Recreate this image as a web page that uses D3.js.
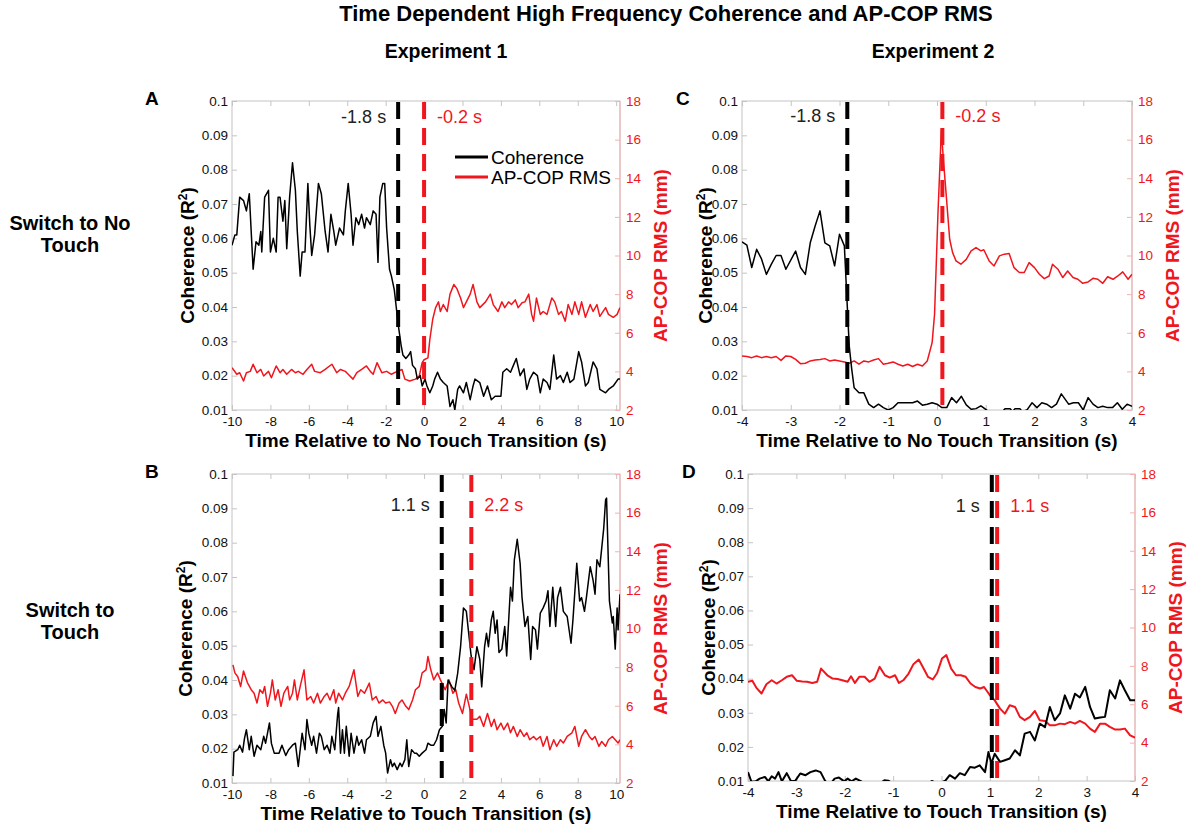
<!DOCTYPE html>
<html>
<head>
<meta charset="utf-8">
<title>Time Dependent High Frequency Coherence and AP-COP RMS</title>
<script src="https://d3js.org/d3.v7.min.js"></script>
<style>
  body { margin: 0; background: #fff; }
  svg text { font-family: "Liberation Sans", Arial, Helvetica, sans-serif; }
</style>
</head>
<body>
<script>
// ---- data (time in s, coherence R^2 / AP-COP RMS mm) ----
var cohTicks = [0.01, 0.02, 0.03, 0.04, 0.05, 0.06, 0.07, 0.08, 0.09, 0.1];
var rmsTicks = [2, 4, 6, 8, 10, 12, 14, 16, 18];
var timeTicksExp1 = [-10, -8, -6, -4, -2, 0, 2, 4, 6, 8, 10];
var timeTicksExp2 = [-4, -3, -2, -1, 0, 1, 2, 3, 4];

// panel A: experiment 1, switch to no touch
var cohA = [[-10,0.058],[-9.85,0.061],[-9.75,0.061],[-9.6,0.072],[-9.4,0.071],[-9.25,0.068],[-9.1,0.073],[-8.9,0.051],[-8.75,0.059],[-8.6,0.058],[-8.5,0.062],[-8.45,0.056],[-8.3,0.072],[-8.1,0.074],[-8.0,0.056],[-7.85,0.06],[-7.7,0.056],[-7.6,0.072],[-7.5,0.072],[-7.35,0.065],[-7.25,0.071],[-7.15,0.057],[-7.0,0.072],[-6.85,0.082],[-6.7,0.074],[-6.6,0.062],[-6.45,0.049],[-6.35,0.056],[-6.2,0.056],[-6.05,0.076],[-5.95,0.064],[-5.85,0.055],[-5.7,0.061],[-5.5,0.076],[-5.35,0.073],[-5.15,0.062],[-5.0,0.056],[-4.85,0.067],[-4.7,0.062],[-4.6,0.058],[-4.4,0.063],[-4.2,0.061],[-4.1,0.068],[-3.95,0.076],[-3.8,0.067],[-3.7,0.058],[-3.55,0.066],[-3.4,0.064],[-3.25,0.067],[-3.1,0.063],[-3.0,0.066],[-2.8,0.064],[-2.65,0.068],[-2.5,0.067],[-2.4,0.053],[-2.3,0.072],[-2.15,0.076],[-2.05,0.076],[-1.95,0.063],[-1.8,0.051],[-1.7,0.049],[-1.55,0.045],[-1.45,0.04],[-1.35,0.035],[-1.2,0.029],[-1.1,0.026],[-0.95,0.025],[-0.8,0.026],[-0.7,0.027],[-0.6,0.023],[-0.45,0.022],[-0.35,0.019],[-0.2,0.02],[-0.1,0.017],[0.05,0.019],[0.15,0.017],[0.3,0.015],[0.45,0.017],[0.55,0.019],[0.7,0.021],[0.85,0.019],[1.0,0.018],[1.2,0.017],[1.35,0.011],[1.5,0.013],[1.6,0.01],[1.75,0.016],[1.85,0.017],[2.05,0.015],[2.2,0.018],[2.4,0.013],[2.55,0.017],[2.65,0.019],[2.9,0.018],[3.1,0.014],[3.3,0.017],[3.5,0.013],[3.7,0.014],[4.0,0.014],[4.1,0.021],[4.3,0.022],[4.5,0.021],[4.65,0.023],[4.8,0.025],[5.0,0.02],[5.2,0.022],[5.35,0.016],[5.5,0.019],[5.7,0.021],[5.9,0.02],[6.05,0.015],[6.2,0.019],[6.4,0.018],[6.55,0.016],[6.75,0.026],[6.9,0.019],[7.1,0.02],[7.25,0.018],[7.45,0.021],[7.6,0.018],[7.8,0.019],[8.05,0.027],[8.2,0.024],[8.4,0.017],[8.55,0.018],[8.8,0.024],[9.0,0.022],[9.15,0.016],[9.45,0.015],[9.6,0.016],[9.85,0.017],[10.1,0.019],[10.2,0.019]];
var rmsA = [[-10,4.19],[-9.75,3.85],[-9.6,3.93],[-9.4,3.5],[-9.25,3.93],[-9.05,4.0],[-8.9,4.37],[-8.7,3.93],[-8.5,4.1],[-8.35,3.76],[-8.1,4.0],[-7.95,3.67],[-7.7,4.28],[-7.5,3.93],[-7.35,4.1],[-7.15,3.85],[-6.9,4.1],[-6.7,3.93],[-6.55,4.0],[-6.3,3.85],[-6.1,4.1],[-5.85,4.37],[-5.7,4.0],[-5.4,3.93],[-5.15,4.1],[-4.8,4.37],[-4.55,3.93],[-4.35,4.1],[-4.1,4.0],[-3.95,3.85],[-3.7,3.6],[-3.5,3.93],[-3.25,4.1],[-3.0,4.28],[-2.8,4.0],[-2.65,3.85],[-2.45,4.45],[-2.2,3.93],[-1.95,4.0],[-1.7,3.85],[-1.4,4.0],[-1.15,4.1],[-1.0,3.6],[-0.75,3.5],[-0.45,3.6],[-0.25,3.76],[-0.1,4.45],[0,4.6],[0.2,4.7],[0.3,5.65],[0.45,6.7],[0.6,7.3],[0.75,7.6],[0.85,7.1],[1.0,7.46],[1.2,7.1],[1.35,8.0],[1.55,8.5],[1.7,8.3],[1.9,7.8],[2.05,7.3],[2.2,7.6],[2.4,8.0],[2.55,8.5],[2.75,7.6],[2.9,7.3],[3.2,7.6],[3.45,8.0],[3.6,7.46],[3.85,7.1],[4.05,7.6],[4.2,7.3],[4.4,7.6],[4.55,7.46],[4.75,7.7],[4.9,7.3],[5.1,7.55],[5.25,7.6],[5.45,8.0],[5.6,6.95],[5.7,6.6],[5.85,7.8],[6.05,6.95],[6.2,7.1],[6.4,6.95],[6.65,7.8],[6.8,7.6],[7.0,6.95],[7.15,7.1],[7.35,6.6],[7.5,7.46],[7.7,6.95],[7.85,7.6],[8.05,6.95],[8.2,7.6],[8.4,6.8],[8.65,7.46],[8.8,7.1],[9.0,7.46],[9.15,6.85],[9.45,7.3],[9.6,6.95],[9.85,6.8],[10.05,6.95],[10.2,7.3]];

// panel B: experiment 1, switch to touch
var cohB = [[-9.95,0.012],[-9.9,0.019],[-9.7,0.0197],[-9.6,0.021],[-9.45,0.019],[-9.35,0.023],[-9.25,0.0255],[-9.1,0.0197],[-9.0,0.0236],[-8.85,0.0178],[-8.7,0.021],[-8.5,0.0197],[-8.35,0.0236],[-8.25,0.0216],[-8.05,0.0275],[-7.95,0.0216],[-7.8,0.0187],[-7.55,0.0187],[-7.4,0.021],[-7.2,0.018],[-7.05,0.0197],[-6.85,0.021],[-6.7,0.0216],[-6.55,0.0148],[-6.45,0.0197],[-6.35,0.0245],[-6.2,0.0197],[-6.1,0.0285],[-6.0,0.0245],[-5.85,0.021],[-5.75,0.0236],[-5.6,0.0187],[-5.45,0.0245],[-5.35,0.0236],[-5.2,0.0197],[-5.05,0.021],[-4.9,0.0187],[-4.8,0.0236],[-4.65,0.0197],[-4.5,0.03],[-4.45,0.032],[-4.35,0.0187],[-4.25,0.0255],[-4.15,0.0187],[-4.05,0.0265],[-3.9,0.0178],[-3.8,0.0245],[-3.65,0.0187],[-3.5,0.0236],[-3.4,0.021],[-3.25,0.0226],[-3.1,0.0187],[-3.0,0.0226],[-2.8,0.0236],[-2.65,0.0275],[-2.5,0.0294],[-2.4,0.0236],[-2.25,0.0265],[-2.1,0.021],[-2.0,0.0187],[-1.9,0.0129],[-1.75,0.0168],[-1.65,0.0148],[-1.55,0.0158],[-1.4,0.0139],[-1.25,0.0158],[-1.15,0.0148],[-1.0,0.0168],[-0.9,0.0226],[-0.8,0.0148],[-0.65,0.0197],[-0.5,0.0187],[-0.4,0.0187],[-0.25,0.0178],[-0.1,0.0187],[0.1,0.0197],[0.2,0.0216],[0.35,0.021],[0.5,0.021],[0.65,0.0226],[0.8,0.0255],[0.95,0.0265],[1.05,0.0314],[1.15,0.0275],[1.25,0.040],[1.45,0.038],[1.6,0.037],[1.75,0.042],[1.9,0.0497],[2.05,0.061],[2.2,0.060],[2.45,0.047],[2.6,0.043],[2.75,0.0497],[2.9,0.046],[3.0,0.038],[3.15,0.0497],[3.25,0.0536],[3.35,0.0497],[3.5,0.0575],[3.6,0.060],[3.7,0.0536],[3.8,0.0575],[3.9,0.048],[4.05,0.049],[4.2,0.0556],[4.3,0.047],[4.5,0.067],[4.6,0.063],[4.7,0.075],[4.85,0.081],[5.0,0.074],[5.1,0.064],[5.25,0.0556],[5.4,0.0585],[5.55,0.046],[5.65,0.0556],[5.8,0.0546],[5.9,0.049],[6.05,0.0595],[6.2,0.061],[6.35,0.063],[6.45,0.066],[6.55,0.0556],[6.7,0.067],[6.85,0.0556],[6.95,0.064],[7.1,0.067],[7.25,0.060],[7.45,0.0585],[7.65,0.0507],[7.75,0.0575],[7.95,0.074],[8.1,0.063],[8.2,0.064],[8.35,0.060],[8.45,0.064],[8.65,0.073],[8.8,0.069],[8.9,0.065],[9.0,0.075],[9.15,0.073],[9.35,0.084],[9.45,0.0925],[9.5,0.093],[9.65,0.063],[9.8,0.0566],[9.85,0.0585],[9.95,0.049],[10.05,0.061],[10.1,0.0546],[10.2,0.065]];
var rmsB = [[-9.95,8.12],[-9.85,7.7],[-9.7,7.5],[-9.55,7.0],[-9.4,7.8],[-9.2,7.2],[-9.0,6.83],[-8.85,6.65],[-8.7,6.14],[-8.55,6.83],[-8.4,6.65],[-8.3,7.0],[-8.15,5.97],[-8.0,6.65],[-7.9,7.34],[-7.75,6.3],[-7.6,6.83],[-7.45,5.97],[-7.3,6.65],[-7.1,7.0],[-7.0,6.3],[-6.85,6.65],[-6.75,7.34],[-6.6,6.3],[-6.45,7.0],[-6.25,7.86],[-6.1,6.3],[-5.9,6.48],[-5.75,6.14],[-5.55,6.65],[-5.4,6.14],[-5.2,6.48],[-5.05,6.65],[-4.9,6.3],[-4.7,6.83],[-4.6,6.14],[-4.45,6.65],[-4.25,6.3],[-4.1,6.65],[-3.9,7.0],[-3.65,7.86],[-3.45,6.48],[-3.3,6.83],[-3.1,6.65],[-2.85,7.17],[-2.7,6.3],[-2.5,6.48],[-2.35,6.14],[-2.15,6.3],[-2.0,6.14],[-1.8,6.2],[-1.65,5.97],[-1.5,5.6],[-1.3,6.14],[-1.15,6.3],[-0.95,5.97],[-0.8,5.8],[-0.6,6.3],[-0.45,6.83],[-0.25,7.0],[-0.1,7.7],[0.1,7.86],[0.2,8.55],[0.35,7.86],[0.5,7.34],[0.7,7.7],[0.85,7.34],[1.1,6.83],[1.3,7.34],[1.5,6.65],[1.65,6.83],[1.8,6.14],[2.0,5.6],[2.2,6.6],[2.35,5.97],[2.5,5.3],[2.75,5.3],[2.9,5.45],[3.1,4.93],[3.3,5.6],[3.5,4.93],[3.65,5.3],[3.8,4.76],[4.0,5.1],[4.15,4.76],[4.35,5.1],[4.5,4.6],[4.65,4.93],[4.85,4.41],[5.0,4.76],[5.2,4.41],[5.35,4.6],[5.5,4.24],[5.7,4.41],[5.85,4.24],[6.05,4.41],[6.2,3.9],[6.4,4.41],[6.55,3.72],[6.75,4.24],[6.9,3.9],[7.1,4.24],[7.25,4.07],[7.45,4.41],[7.7,4.6],[7.85,4.93],[8.05,3.9],[8.2,4.41],[8.4,4.76],[8.6,4.41],[8.75,4.24],[8.9,4.41],[9.1,3.9],[9.25,4.15],[9.45,3.9],[9.6,4.24],[9.8,4.41],[9.95,4.24],[10.1,4.07],[10.2,4.24]];

// panel C: experiment 2, switch to no touch
var cohC = [[-4,0.059],[-3.9,0.058],[-3.8,0.0515],[-3.7,0.0568],[-3.6,0.054],[-3.5,0.0495],[-3.4,0.0524],[-3.3,0.055],[-3.2,0.055],[-3.1,0.051],[-2.9,0.0563],[-2.8,0.0515],[-2.7,0.0495],[-2.6,0.0587],[-2.5,0.0636],[-2.4,0.068],[-2.3,0.0587],[-2.2,0.0578],[-2.1,0.052],[-2.0,0.0612],[-1.9,0.0578],[-1.85,0.043],[-1.8,0.0286],[-1.75,0.022],[-1.7,0.0165],[-1.6,0.015],[-1.5,0.015],[-1.4,0.0117],[-1.3,0.0107],[-1.2,0.0117],[-1.1,0.0107],[-1.0,0.0100],[-0.9,0.0107],[-0.8,0.0121],[-0.7,0.0121],[-0.6,0.0121],[-0.5,0.0121],[-0.4,0.0126],[-0.3,0.0114],[-0.2,0.0117],[-0.1,0.0121],[0,0.0117],[0.1,0.0107],[0.2,0.0107],[0.3,0.0136],[0.4,0.0121],[0.5,0.014],[0.6,0.0115],[0.7,0.0102],[0.8,0.0104],[0.9,0.0112],[1.0,0.0102],[1.1,0.009],[1.2,0.0085],[1.3,0.009],[1.4,0.0104],[1.5,0.0104],[1.55,0.0095],[1.6,0.0104],[1.7,0.0104],[1.75,0.0095],[1.85,0.0101],[1.95,0.0121],[2.05,0.0107],[2.15,0.0121],[2.25,0.0117],[2.35,0.0107],[2.45,0.0117],[2.55,0.0147],[2.7,0.0117],[2.8,0.0121],[2.9,0.0121],[3.0,0.01],[3.1,0.0136],[3.2,0.0117],[3.3,0.0107],[3.4,0.0111],[3.5,0.0107],[3.6,0.0107],[3.7,0.0121],[3.8,0.0102],[3.9,0.0117],[4.0,0.0111]];
var rmsC = [[-4,4.8],[-3.9,4.77],[-3.8,4.71],[-3.7,4.8],[-3.6,4.71],[-3.5,4.77],[-3.4,4.71],[-3.3,4.77],[-3.2,4.57],[-3.1,4.8],[-3.0,4.77],[-2.9,4.62],[-2.8,4.4],[-2.7,4.42],[-2.6,4.54],[-2.5,4.59],[-2.4,4.62],[-2.3,4.66],[-2.2,4.54],[-2.1,4.59],[-2.0,4.54],[-1.9,4.49],[-1.8,4.42],[-1.7,4.54],[-1.6,4.37],[-1.5,4.54],[-1.4,4.49],[-1.3,4.59],[-1.2,4.66],[-1.1,4.37],[-1.0,4.42],[-0.9,4.49],[-0.8,4.37],[-0.7,4.28],[-0.6,4.37],[-0.5,4.25],[-0.4,4.37],[-0.3,4.28],[-0.2,4.54],[-0.1,5.49],[-0.05,6.96],[0.02,12.2],[0.09,16.5],[0.13,15.0],[0.19,13.1],[0.26,10.84],[0.32,10.15],[0.39,9.72],[0.49,9.55],[0.6,9.8],[0.7,10.24],[0.8,10.41],[0.9,10.24],[0.96,10.3],[1.07,9.72],[1.17,9.46],[1.28,9.98],[1.38,10.07],[1.48,10.1],[1.58,9.37],[1.69,9.12],[1.79,9.12],[1.89,9.63],[2.0,9.37],[2.1,9.03],[2.2,8.8],[2.3,8.94],[2.37,9.55],[2.48,9.29],[2.58,8.86],[2.68,9.2],[2.79,8.86],[2.89,8.77],[2.99,8.56],[3.1,8.63],[3.2,8.82],[3.3,8.77],[3.4,8.56],[3.5,8.9],[3.61,8.77],[3.71,8.94],[3.81,9.15],[3.92,8.77],[4.0,9.03]];

// panel D: experiment 2, switch to touch
var cohD = [[-4,0.0126],[-3.93,0.0098],[-3.84,0.0099],[-3.76,0.0107],[-3.65,0.0112],[-3.58,0.0099],[-3.51,0.0114],[-3.44,0.0107],[-3.37,0.0126],[-3.3,0.0099],[-3.2,0.0123],[-3.11,0.0099],[-3.02,0.0101],[-2.92,0.0122],[-2.81,0.0117],[-2.71,0.0126],[-2.6,0.0131],[-2.5,0.0126],[-2.4,0.0099],[-2.29,0.0092],[-2.21,0.0107],[-2.12,0.011],[-2.01,0.0099],[-1.94,0.0107],[-1.86,0.0099],[-1.77,0.0107],[-1.66,0.0099],[-1.56,0.009],[-1.45,0.0092],[-1.35,0.009],[-1.25,0.0095],[-1.18,0.0102],[-1.1,0.0101],[-1.0,0.0092],[-0.9,0.009],[-0.8,0.0094],[-0.7,0.009],[-0.6,0.0093],[-0.5,0.009],[-0.4,0.0092],[-0.3,0.009],[-0.2,0.01],[-0.1,0.0094],[0.0,0.0096],[0.08,0.0101],[0.17,0.0117],[0.28,0.0107],[0.38,0.0123],[0.48,0.0117],[0.59,0.0141],[0.69,0.0139],[0.79,0.0146],[0.9,0.0126],[0.97,0.0185],[1.03,0.0151],[1.1,0.018],[1.21,0.0156],[1.31,0.0161],[1.41,0.0166],[1.52,0.019],[1.62,0.0175],[1.72,0.0239],[1.83,0.0244],[1.93,0.0219],[2.03,0.0268],[2.14,0.0258],[2.24,0.0317],[2.34,0.0278],[2.45,0.0298],[2.55,0.0351],[2.66,0.0312],[2.76,0.0356],[2.86,0.0345],[2.97,0.0376],[3.07,0.0317],[3.17,0.0283],[3.28,0.0286],[3.38,0.0288],[3.48,0.0366],[3.59,0.0342],[3.69,0.0395],[3.79,0.0366],[3.9,0.0337],[4.0,0.0337]];
var rmsD = [[-4,7.17],[-3.91,7.22],[-3.83,6.87],[-3.72,6.56],[-3.62,7.04],[-3.51,7.25],[-3.41,7.08],[-3.3,7.25],[-3.2,7.43],[-3.09,7.51],[-2.99,7.22],[-2.88,7.18],[-2.78,7.17],[-2.67,7.11],[-2.57,7.17],[-2.49,7.86],[-2.36,7.51],[-2.25,7.34],[-2.15,7.32],[-2.05,7.25],[-1.94,7.17],[-1.87,7.46],[-1.79,7.11],[-1.7,7.43],[-1.59,7.43],[-1.49,7.17],[-1.38,7.34],[-1.28,7.95],[-1.17,7.51],[-1.07,7.39],[-0.96,7.51],[-0.88,7.11],[-0.79,7.25],[-0.68,7.6],[-0.58,8.09],[-0.47,8.33],[-0.37,7.86],[-0.28,7.43],[-0.18,7.29],[-0.09,7.63],[0.01,8.38],[0.1,8.56],[0.2,7.86],[0.3,7.51],[0.4,7.51],[0.5,7.43],[0.6,7.08],[0.7,6.9],[0.8,6.82],[0.88,6.9],[1.0,6.47],[1.1,6.2],[1.21,5.77],[1.31,5.51],[1.41,5.95],[1.52,5.86],[1.62,5.34],[1.72,5.17],[1.83,5.34],[1.93,5.65],[2.03,5.17],[2.14,5.13],[2.24,4.9],[2.34,4.9],[2.45,4.99],[2.55,4.96],[2.66,5.08],[2.76,4.99],[2.86,5.13],[2.97,4.99],[3.07,4.73],[3.17,4.56],[3.28,4.99],[3.38,4.99],[3.48,4.82],[3.59,4.68],[3.69,4.68],[3.79,4.73],[3.9,4.38],[4.0,4.26]];

// transition markers: [coherence line time, rms line time], and their labels
var markA = [-1.35, 0.0],  markLabelsA = ["-1.8 s", "-0.2 s"];
var markB = [0.92, 2.46],  markLabelsB = ["1.1 s", "2.2 s"];
var markC = [-1.84, 0.11], markLabelsC = ["-1.8 s", "-0.2 s"];
var markD = [1.04, 1.15],  markLabelsD = ["1 s", "1.1 s"];

var legendLabels = ["Coherence", "AP-COP RMS"];

// ---- drawing ----
var red = "#f0161d";
var svg = d3.select("body").append("svg").attr("width", 1188).attr("height", 833);

var panels = [
  {id: "A", coh: cohA, rms: rmsA, marks: markA, markLabels: markLabelsA, xDom: [-10, 10.2], xTicks: timeTicksExp1,
   left: 232, right: 620, top: 101, bottom: 410, labelY: 123, yTitleOff: 45, xTitle: "Time Relative to No Touch Transition (s)", legend: true},
  {id: "B", coh: cohB, rms: rmsB, marks: markB, markLabels: markLabelsB, xDom: [-10, 10.2], xTicks: timeTicksExp1,
   left: 232, right: 620, top: 474, bottom: 783, labelY: 511, yTitleOff: 47, xTitle: "Time Relative to Touch Transition (s)"},
  {id: "C", coh: cohC, rms: rmsC, marks: markC, markLabels: markLabelsC, xDom: [-4, 4], xTicks: timeTicksExp2,
   left: 742, right: 1132, top: 101, bottom: 410, labelY: 122, yTitleOff: 37, xTitle: "Time Relative to No Touch Transition (s)"},
  {id: "D", coh: cohD, rms: rmsD, marks: markD, markLabels: markLabelsD, xDom: [-4, 4], xTicks: timeTicksExp2,
   left: 748, right: 1135, top: 474, bottom: 781, labelY: 512, yTitleOff: 40, xTitle: "Time Relative to Touch Transition (s)"}
];

panels.forEach(function (p) {
  var x = d3.scaleLinear().domain(p.xDom).range([p.left, p.right]);
  var y = d3.scaleLinear().domain([0.01, 0.1]).range([p.bottom, p.top]);
  var yR = d3.scaleLinear().domain([2, 18]).range([p.bottom, p.top]);
  var g = svg.append("g");

  // frame
  g.append("rect").attr("x", p.left).attr("y", p.top)
    .attr("width", p.right - p.left).attr("height", p.bottom - p.top)
    .attr("fill", "none").attr("stroke", "#c4c4c4").attr("stroke-width", 1);
  g.append("line").attr("x1", p.right).attr("x2", p.right).attr("y1", p.top).attr("y2", p.bottom)
    .attr("stroke", "#f7b0b0").attr("stroke-width", 1);

  // axes, ticks pointing inward like matlab
  var ax = g.append("g").attr("transform", "translate(0," + p.bottom + ")")
    .call(d3.axisBottom(x).tickValues(p.xTicks).tickSize(-5).tickPadding(6).tickFormat(function (d) { return String(d); }));
  var axTop = g.append("g").attr("transform", "translate(0," + p.top + ")")
    .call(d3.axisTop(x).tickValues(p.xTicks).tickSize(-5).tickFormat(""));
  var ay = g.append("g").attr("transform", "translate(" + p.left + ",0)")
    .call(d3.axisLeft(y).tickValues(cohTicks).tickSize(-5).tickPadding(4)
      .tickFormat(function (d) { return String(+d.toFixed(2)); }));
  var ayR = g.append("g").attr("transform", "translate(" + p.right + ",0)")
    .call(d3.axisRight(yR).tickValues(rmsTicks).tickSize(-5).tickPadding(6));

  [ax, axTop, ay, ayR].forEach(function (a) {
    a.select(".domain").remove();
    a.selectAll(".tick line").attr("stroke", "#c4c4c4");
    a.selectAll(".tick text").attr("font-size", 13.5).attr("fill", "#111")
      .attr("font-family", "'Liberation Sans', Arial, sans-serif");
  });
  ayR.selectAll(".tick line").attr("stroke", "#f7b0b0");
  ayR.selectAll(".tick text").attr("fill", red);

  // clip
  var cid = "clip" + p.id;
  svg.append("clipPath").attr("id", cid).append("rect")
    .attr("x", p.left).attr("y", p.top).attr("width", p.right - p.left).attr("height", p.bottom - p.top);

  var lineCoh = d3.line().x(function (d) { return x(d[0]); }).y(function (d) { return y(d[1]); });
  var lineRms = d3.line().x(function (d) { return x(d[0]); }).y(function (d) { return yR(d[1]); });
  var plot = g.append("g").attr("clip-path", "url(#" + cid + ")");
  var lw = p.id === "D" ? 2 : 1.5;
  plot.append("path").datum(p.rms).attr("d", lineRms)
    .attr("fill", "none").attr("stroke", red).attr("stroke-width", lw).attr("stroke-linejoin", "round");
  plot.append("path").datum(p.coh).attr("d", lineCoh)
    .attr("fill", "none").attr("stroke", "#000").attr("stroke-width", lw).attr("stroke-linejoin", "round");

  // dashed transition lines
  var markColors = ["#000", red];
  p.marks.forEach(function (t, i) {
    g.append("line").attr("x1", x(t)).attr("x2", x(t)).attr("y1", p.top + 1).attr("y2", p.bottom)
      .attr("stroke", markColors[i]).attr("stroke-width", 4).attr("stroke-dasharray", "17,9");
  });
  g.append("text").attr("x", x(p.marks[0]) - 12).attr("y", p.labelY).attr("text-anchor", "end")
    .attr("font-family", "Lato, 'Open Sans', sans-serif").attr("font-size", 18).attr("fill", "#222")
    .text(p.markLabels[0]);
  g.append("text").attr("x", x(p.marks[1]) + 13).attr("y", p.labelY)
    .attr("font-family", "Lato, 'Open Sans', sans-serif").attr("font-size", 18).attr("fill", red)
    .text(p.markLabels[1]);

  // axis titles
  var midY = (p.top + p.bottom) / 2;
  var yt = g.append("text").attr("transform", "translate(" + (p.left - p.yTitleOff + 7) + "," + midY + ") rotate(-90)")
    .attr("text-anchor", "middle").attr("font-size", 19).attr("font-weight", "bold");
  yt.append("tspan").text("Coherence (R");
  yt.append("tspan").attr("font-size", 12).attr("dy", -7).text("2");
  yt.append("tspan").attr("dy", 7).text(")");
  g.append("text").attr("transform", "translate(" + (p.right + 47) + "," + midY + ") rotate(-90)")
    .attr("text-anchor", "middle").attr("font-size", 19).attr("font-weight", "bold").attr("fill", red)
    .text("AP-COP RMS (mm)");
  g.append("text").attr("x", (p.left + p.right) / 2).attr("y", p.bottom + 37)
    .attr("text-anchor", "middle").attr("font-size", 19).attr("font-weight", "bold")
    .text(p.xTitle);

  // panel letter
  g.append("text").attr("x", p.left - (p.id === "A" || p.id === "B" ? 87 : 66)).attr("y", p.top + 4)
    .attr("font-size", 19).attr("font-weight", "bold").text(p.id);

  if (p.legend) {
    var lg = g.append("g");
    legendLabels.forEach(function (name, i) {
      var ly = 157 + i * 20;
      lg.append("line").attr("x1", 455).attr("x2", 488).attr("y1", ly).attr("y2", ly)
        .attr("stroke", i === 0 ? "#000" : red).attr("stroke-width", 3);
      lg.append("text").attr("x", 491).attr("y", ly + 7).attr("font-size", 19).text(name);
    });
  }
});

// titles
svg.append("text").attr("x", 666).attr("y", 21).attr("text-anchor", "middle")
  .attr("font-size", 22).attr("font-weight", "bold")
  .text("Time Dependent High Frequency Coherence and AP-COP RMS");
svg.append("text").attr("x", 446).attr("y", 58).attr("text-anchor", "middle")
  .attr("font-size", 19.5).attr("font-weight", "bold").text("Experiment 1");
svg.append("text").attr("x", 933).attr("y", 58).attr("text-anchor", "middle")
  .attr("font-size", 19.5).attr("font-weight", "bold").text("Experiment 2");

var rowLabels = [["Switch to No", "Touch"], ["Switch to", "Touch"]];
var rowY = [230, 617];
rowLabels.forEach(function (lines, r) {
  lines.forEach(function (s, i) {
    svg.append("text").attr("x", 70).attr("y", rowY[r] + i * 22).attr("text-anchor", "middle")
      .attr("font-size", 20).attr("font-weight", "bold").text(s);
  });
});
</script>
</body>
</html>
